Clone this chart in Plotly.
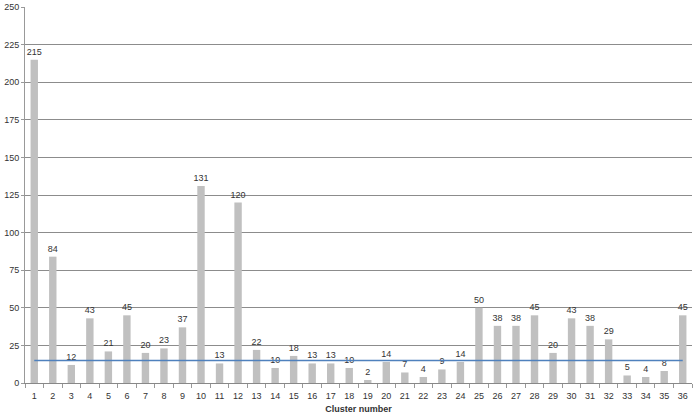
import plotly.graph_objects as go

clusters = list(range(1, 37))
counts = [215, 84, 12, 43, 21, 45, 20, 23, 37, 131, 13, 120, 22, 10, 18, 13, 13, 10,
          2, 14, 7, 4, 9, 14, 50, 38, 38, 45, 20, 43, 38, 29, 5, 4, 8, 45]
threshold = 15
y_ticks = [0, 25, 50, 75, 100, 125, 150, 175, 200, 225, 250]

fig = go.Figure()
fig.add_trace(go.Bar(
    x=clusters, y=counts, text=[str(c) for c in counts], textposition="outside",
    outsidetextfont=dict(size=9, color="#333333"), constraintext="none", cliponaxis=False,
    marker=dict(color="#c0c0c0", line=dict(width=0)), showlegend=False,
))
fig.add_trace(go.Scatter(
    x=[clusters[0], clusters[-1]], y=[threshold, threshold], mode="lines",
    line=dict(color="#4f81bd", width=1.5), showlegend=False,
))
fig.update_layout(
    width=699, height=414, margin=dict(l=25, r=7, t=7, b=31, autoexpand=False),
    paper_bgcolor="white", plot_bgcolor="white", bargap=0.6,
    font=dict(family="Liberation Sans, Arial, sans-serif", size=9, color="#333333"),
)
fig.update_xaxes(
    tickmode="array", tickvals=clusters, ticktext=[str(c) for c in clusters],
    range=[0.5, 36.5], showline=True, linecolor="#888", linewidth=1, automargin=False,
    showgrid=False, ticks="", tickfont=dict(size=9), ticklabelstandoff=4,
    minor=dict(tickmode="linear", tick0=0.5, dtick=1, ticks="outside", ticklen=4,
               tickcolor="#999", showgrid=False),
    title=dict(text="<b>Cluster number</b>", font=dict(size=9), standoff=5),
)
fig.update_yaxes(
    tickmode="array", tickvals=y_ticks, range=[0, 250], showline=True, automargin=False,
    linecolor="#999", linewidth=1, showgrid=True, gridcolor="#8c8c8c", gridwidth=1,
    ticks="outside", ticklen=3, tickcolor="#999", tickfont=dict(size=9), zeroline=False,
)
fig.write_html("out.html")
